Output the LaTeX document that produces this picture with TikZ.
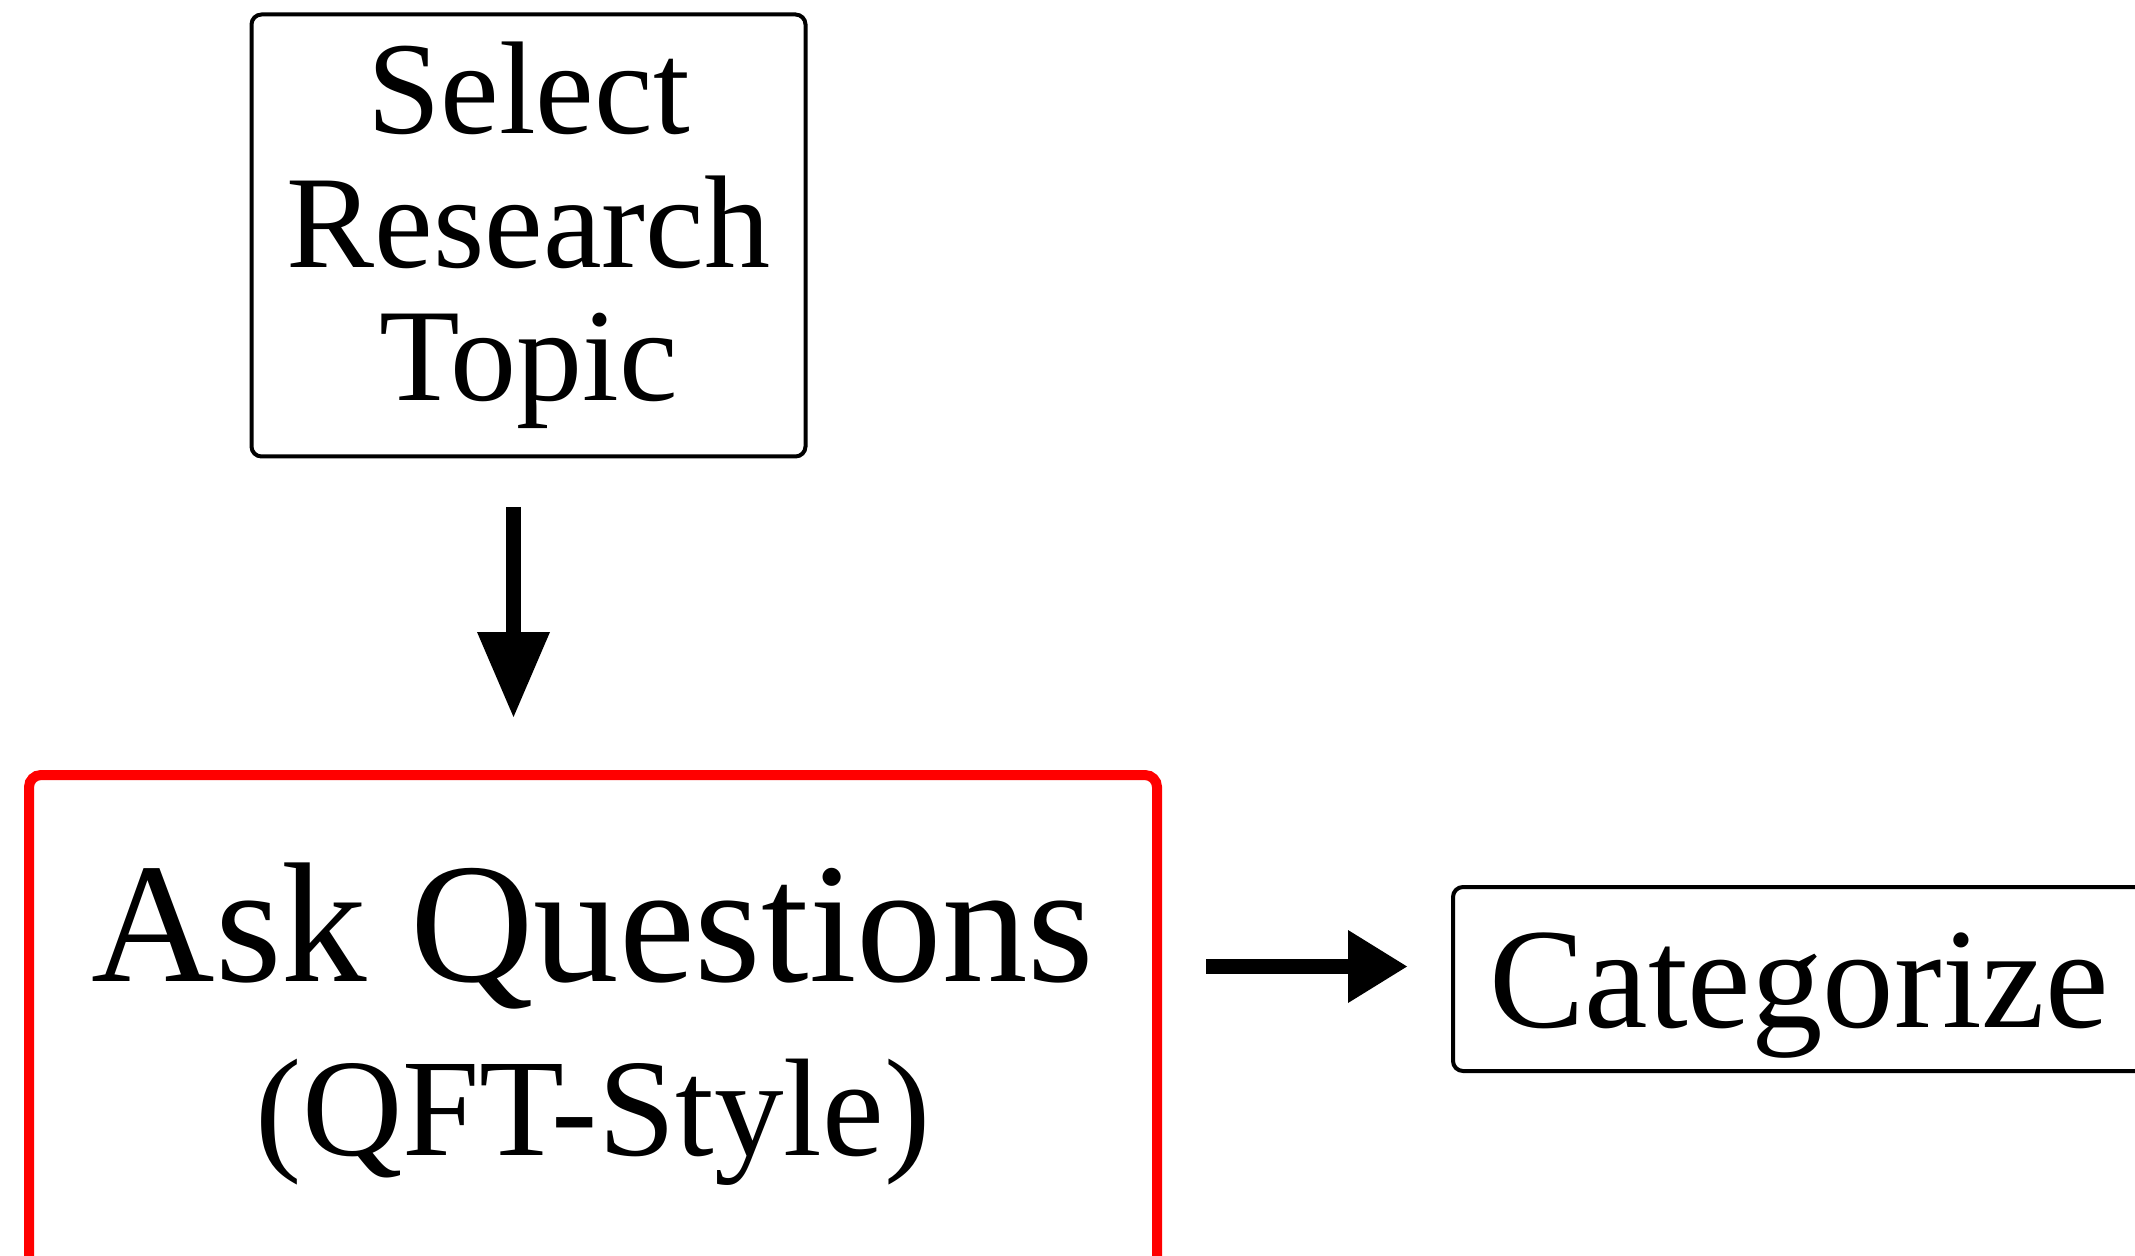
\documentclass[tikz,border=0pt]{standalone}
\usepackage{fontspec}
\setmainfont{Liberation Serif}
\usetikzlibrary{arrows.meta}

\begin{document}
\begin{tikzpicture}[x=0.5pt,y=-0.5pt,
  box/.style={draw=black, line width=2pt, rounded corners=5pt, outer sep=0pt,
              inner sep=0pt, align=center, fill=white},
  redbox/.style={draw={rgb,255:red,255;green,0;blue,0}, line width=5pt,
              rounded corners=6pt, outer sep=0pt, inner sep=0pt, align=center},
  bigarrow/.style={line width=7.5pt, draw=black}
]
\useasboundingbox (0,0) rectangle (2135,1256);
\clip (0,0) rectangle (2135,1256);

% Step boxes
\node[box, minimum width=277pt, minimum height=221pt,
      font=\fontsize{66}{66.75}\selectfont] (topic) at (528.5,235.5)
      {Select\\Research\\Topic};

\node[redbox, minimum width=564pt, minimum height=249.5pt,
      font=\fontsize{85.5}{87}\selectfont] (ask) at (593,1024.5)
      {Ask Questions\\{\fontsize{69.5}{87}\selectfont (QFT-Style)}};

\node[box, minimum width=346pt, minimum height=92pt,
      text height=48pt, text depth=0pt,
      font=\fontsize{71.5}{72}\selectfont] (cat) at (1799,979)
      {Categorize};

% Connectors
\draw[bigarrow, -{Triangle[length=42.5pt,width=36.5pt,line width=0pt]},
      shorten <=25.25pt, shorten >=29pt]
  ([xshift=-7.5pt]topic.south) -- ([xshift=-7.5pt]topic.south |- ask.north);

\draw[bigarrow, -{Triangle[length=29.5pt,width=36.5pt,line width=0pt]},
      shorten <=24.5pt, shorten >=23pt]
  ([yshift=29pt]ask.east) -- ([yshift=29pt]ask.east -| cat.west);
\end{tikzpicture}
\end{document}
